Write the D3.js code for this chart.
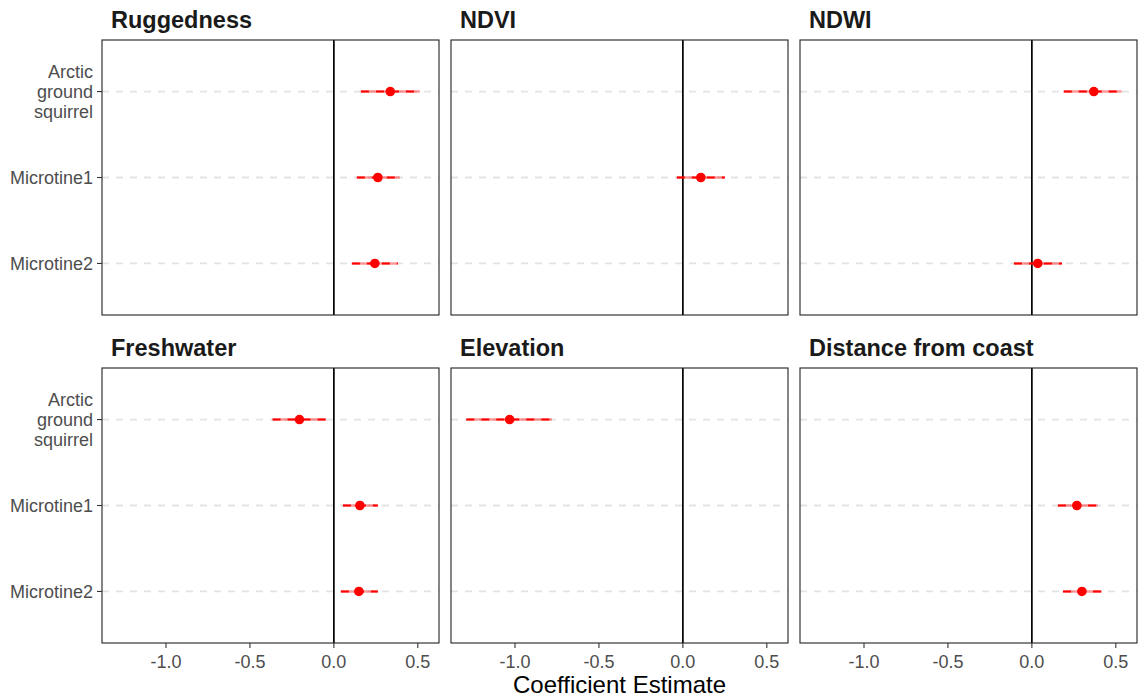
<!DOCTYPE html>
<html>
<head>
<meta charset="utf-8">
<script src="https://cdn.jsdelivr.net/npm/d3@7"></script>
<style>
  html, body { margin: 0; padding: 0; background: #fff; }
  svg { display: block; font-family: "Liberation Sans", Arial, sans-serif; }
</style>
</head>
<body>
<svg id="chart" width="1139" height="698"></svg>
<script>
// Facet titles, in display order (row-major, 3 per row)
const covariates = ["Ruggedness", "NDVI", "NDWI", "Freshwater", "Elevation", "Distance from coast"];
// Species on the y axis
const species = ["Arctic ground squirrel", "Microtine1", "Microtine2"];
// Per-estimate records: facet, species, estimate, lower, upper
const estCovariate = ["Ruggedness", "Ruggedness", "Ruggedness", "NDVI", "NDWI", "NDWI",
                      "Freshwater", "Freshwater", "Freshwater", "Elevation",
                      "Distance from coast", "Distance from coast"];
const estSpecies = ["Arctic ground squirrel", "Microtine1", "Microtine2", "Microtine1",
                    "Arctic ground squirrel", "Microtine2",
                    "Arctic ground squirrel", "Microtine1", "Microtine2",
                    "Arctic ground squirrel", "Microtine1", "Microtine2"];
const estimate = [0.336, 0.262, 0.244, 0.107, 0.369, 0.035, -0.205, 0.155, 0.149, -1.032, 0.268, 0.298];
const lower    = [0.161, 0.137, 0.107, -0.036, 0.190, -0.107, -0.365, 0.054, 0.042, -1.290, 0.155, 0.185];
const upper    = [0.512, 0.393, 0.381, 0.250, 0.535, 0.179, -0.048, 0.262, 0.262, -0.780, 0.393, 0.417];
const xTicks = [-1.0, -0.5, 0.0, 0.5];

const svg = d3.select("#chart");
const panelW = 337, panelH = 275;
const panelLeft = [102, 451, 800];
const panelTop = [40, 368];

// shared x scale with 5% expansion on the data range
const dMin = d3.min(lower), dMax = d3.max(upper);
const pad = (dMax - dMin) * 0.05;
const x = d3.scaleLinear().domain([dMin - pad, dMax + pad]).range([0, panelW]);
const y = d3.scalePoint().domain(species).range([0, panelH]).padding(0.6);

const rows = estimate.map((e, i) => ({
  cov: estCovariate[i], sp: estSpecies[i], est: e, lo: lower[i], hi: upper[i]
}));

covariates.forEach((cov, idx) => {
  const col = idx % 3, row = Math.floor(idx / 3);
  const g = svg.append("g").attr("transform", `translate(${panelLeft[col]},${panelTop[row]})`);

  // strip title
  g.append("text")
    .attr("x", 9).attr("y", -12)
    .attr("font-size", 23.5).attr("font-weight", "bold").attr("fill", "#1a1a1a")
    .text(cov);

  // horizontal dashed grid lines
  g.selectAll("line.grid").data(species).enter().append("line")
    .attr("x1", 0).attr("x2", panelW)
    .attr("y1", d => y(d)).attr("y2", d => y(d))
    .attr("stroke", "#e3e3e3").attr("stroke-width", 1.8)
    .attr("stroke-dasharray", "7,7");

  // reference line at zero
  g.append("line")
    .attr("x1", x(0)).attr("x2", x(0)).attr("y1", 0).attr("y2", panelH)
    .attr("stroke", "#000").attr("stroke-width", 1.7);

  const data = rows.filter(r => r.cov === cov);

  // interval: translucent base with solid dashes on top
  g.selectAll("line.ci").data(data).enter().append("line")
    .attr("x1", d => x(d.lo)).attr("x2", d => x(d.hi))
    .attr("y1", d => y(d.sp)).attr("y2", d => y(d.sp))
    .attr("stroke", "#ff0000").attr("stroke-opacity", 0.4).attr("stroke-width", 2.4);
  g.selectAll("line.ci2").data(data).enter().append("line")
    .attr("x1", d => x(d.lo)).attr("x2", d => x(d.hi))
    .attr("y1", d => y(d.sp)).attr("y2", d => y(d.sp))
    .attr("stroke", "#ff0000").attr("stroke-width", 2)
    .attr("stroke-dasharray", "8,7");

  g.selectAll("circle").data(data).enter().append("circle")
    .attr("cx", d => x(d.est)).attr("cy", d => y(d.sp)).attr("r", 4.8)
    .attr("fill", "#ff0000");

  // panel border
  g.append("rect")
    .attr("x", 0).attr("y", 0).attr("width", panelW).attr("height", panelH)
    .attr("fill", "none").attr("stroke", "#222").attr("stroke-width", 1.1);

  // y axis on first column
  if (col === 0) {
    const ya = g.append("g");
    species.forEach(sp => {
      ya.append("line")
        .attr("x1", -5).attr("x2", 0).attr("y1", y(sp)).attr("y2", y(sp))
        .attr("stroke", "#333").attr("stroke-width", 1.1);
      const words = sp === "Arctic ground squirrel" ? ["Arctic", "ground", "squirrel"] : [sp];
      const lh = 20;
      const t = ya.append("text")
        .attr("text-anchor", "end").attr("font-size", 18).attr("fill", "#4d4d4d");
      words.forEach((w, k) => {
        t.append("tspan")
          .attr("x", -9)
          .attr("y", y(sp) + 6.5 + (k - (words.length - 1) / 2) * lh)
          .text(w);
      });
    });
  }

  // x axis on bottom row
  if (row === 1) {
    const xa = g.append("g").attr("transform", `translate(0,${panelH})`);
    xTicks.forEach(v => {
      xa.append("line")
        .attr("x1", x(v)).attr("x2", x(v)).attr("y1", 0).attr("y2", 5)
        .attr("stroke", "#333").attr("stroke-width", 1.1);
      xa.append("text")
        .attr("x", x(v)).attr("y", 25)
        .attr("text-anchor", "middle").attr("font-size", 18).attr("fill", "#4d4d4d")
        .text(d3.format(".1f")(v).replace("\u2212", "-"));
    });
  }
});

// axis title
svg.append("text")
  .attr("x", (panelLeft[0] + panelLeft[2] + panelW) / 2).attr("y", 693)
  .attr("text-anchor", "middle").attr("font-size", 24).attr("fill", "#000")
  .text("Coefficient Estimate");
</script>
</body>
</html>
